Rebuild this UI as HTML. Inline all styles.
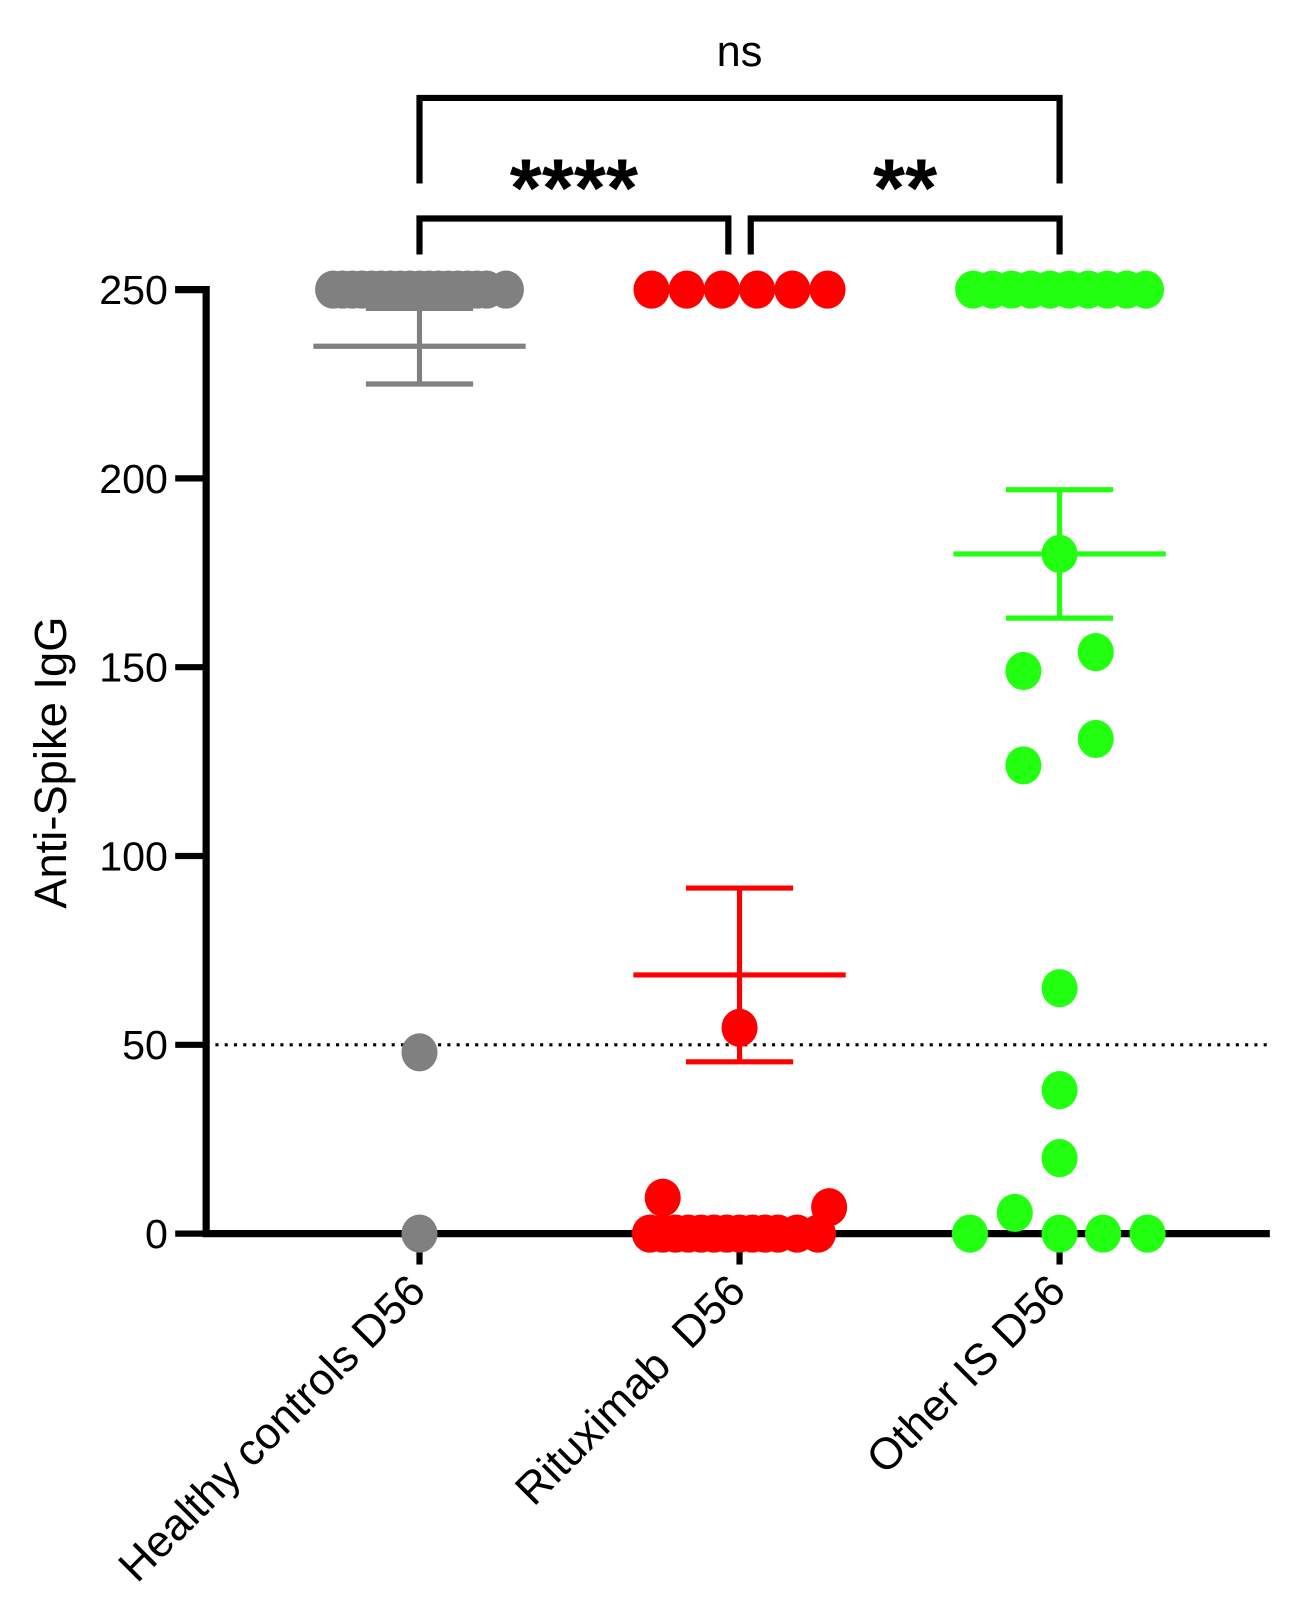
<!DOCTYPE html>
<html><head><meta charset="utf-8"><style>
html,body{margin:0;padding:0;background:#fff}
svg{display:block}
text{font-family:"Liberation Sans",Arial,sans-serif}
</style></head><body>
<svg id="chart" width="1309" height="1617" viewBox="0 0 1270 1569" preserveAspectRatio="none" xmlns="http://www.w3.org/2000/svg">
<g id="g"></g>
</svg>
<script>
const categories = ["Healthy controls D56", "Rituximab\u00a0\u00a0D56", "Other IS D56"];
const colors = ["#808080", "#ff0000", "#22ff11"];
const yTicks = [0, 50, 100, 150, 200, 250];
const healthyValues = [250,250,250,250,250,250,250,250,250,250,250,250,250,250,250,250,250,250,48,0];
const healthyJitter = [-0.27,-0.24,-0.21,-0.18,-0.15,-0.12,-0.09,-0.06,-0.03,0,0.03,0.06,0.09,0.12,0.15,0.18,0.21,0.27,0,0];
const rituxValues = [250,250,250,250,250,250,54.5,9.5,7,0,0,0,0,0,0,0,0,0,0,0,0,0];
const rituxJitter = [-0.275,-0.165,-0.055,0.055,0.165,0.275,0,-0.24,0.28,-0.28,-0.24,-0.2,-0.16,-0.12,-0.08,-0.04,0,0.04,0.08,0.12,0.18,0.245];
const otherValues = [250,250,250,250,250,250,250,250,250,250,180,149,154,131,124,65,38,20,5.5,0,0,0,0];
const otherJitter = [-0.27,-0.21,-0.15,-0.09,-0.03,0.03,0.09,0.15,0.21,0.27,0,-0.113,0.113,0.113,-0.113,0,0,0,-0.14,-0.28,0,0.136,0.275];
const means = [235, 68.5, 180];
const semLow = [225, 45.5, 163];
const semHigh = [245, 91.5, 197];
const sigLabels = ["ns", "****", "**"];

const NS = "http://www.w3.org/2000/svg";
const g = document.getElementById("g");
const X0 = 407, XSTEP = 310.5, Y0 = 1197, YK = (1197 - 281) / 250;
const xs = (c, j) => X0 + (c + (j || 0)) * XSTEP;
const ys = v => Y0 - v * YK;
function mk(tag, attrs, parent) {
  const e = document.createElementNS(NS, tag);
  for (const k in attrs) e.setAttribute(k, attrs[k]);
  (parent || g).appendChild(e);
  return e;
}

let e = mk("line", {x1: 200, x2: 1232, y1: ys(50), y2: ys(50), stroke: "#000", "stroke-width": 3, "stroke-dasharray": "3,6"});



e = mk("path", {d: `M170 ${ys(250)} H200 V${Y0} H1232`, fill: "none", stroke: "#000", "stroke-width": 7});


yTicks.forEach(t => {
  const tk = mk("line", {x1: 170, x2: 200, y1: ys(t), y2: ys(t), stroke: "#000", "stroke-width": 6});
  
  
  const tl = mk("text", {x: 163, y: ys(t) + 14, "text-anchor": "end", "font-size": 40});
  tl.textContent = t;
  
  
});
e = mk("text", {transform: "translate(64,740) rotate(-90)", "text-anchor": "middle", "font-size": 44});
e.textContent = "Anti-Spike IgG";



categories.forEach((c, i) => {
  const tk = mk("line", {x1: xs(i), x2: xs(i), y1: Y0, y2: Y0 + 30, stroke: "#000", "stroke-width": 6});
  
  
  const tl = mk("text", {transform: `translate(${xs(i) + 8},${Y0 + 58}) rotate(-45)`, "text-anchor": "end", "font-size": 43});
  tl.textContent = c;
  
  
});

[[healthyValues, healthyJitter], [rituxValues, rituxJitter], [otherValues, otherJitter]].forEach((s, i) => {
  s[0].forEach((v, k) => {
    const p = mk("ellipse", {cx: xs(i, s[1][k]), cy: ys(v), rx: 17.5, ry: 18.5, fill: colors[i]});
    
    
  });
});

means.forEach((m, i) => {
  const c = colors[i], x = xs(i);
  const w = mk("path", {d: `M${x} ${ys(semLow[i])} V${ys(semHigh[i])} M${x - 52} ${ys(semLow[i])} H${x + 52} M${x - 52} ${ys(semHigh[i])} H${x + 52}`, stroke: c, "stroke-width": 5, fill: "none"});
  
  
  const ml = mk("line", {x1: x - 103, x2: x + 103, y1: ys(m), y2: ys(m), stroke: c, "stroke-width": 5});
  
  
});

const bk = [[0, 2, 95, 178], [0, 0.965, 212, 247], [1.035, 2, 212, 247]];
bk.forEach((b, i) => {
  const x1 = xs(b[0]), x2 = xs(b[1]);
  const p = mk("path", {d: `M${x1} ${b[3]} V${b[2]} H${x2} V${b[3]}`, stroke: "#000", "stroke-width": 6, fill: "none"});
  
  
  const t = mk("text", {x: (x1 + x2) / 2, y: i === 0 ? 64 : 210, "text-anchor": "middle", "font-size": i === 0 ? 42 : 80, "font-weight": i === 0 ? "normal" : "bold"});
  t.textContent = sigLabels[i];
  
  
});
</script>
</body></html>
